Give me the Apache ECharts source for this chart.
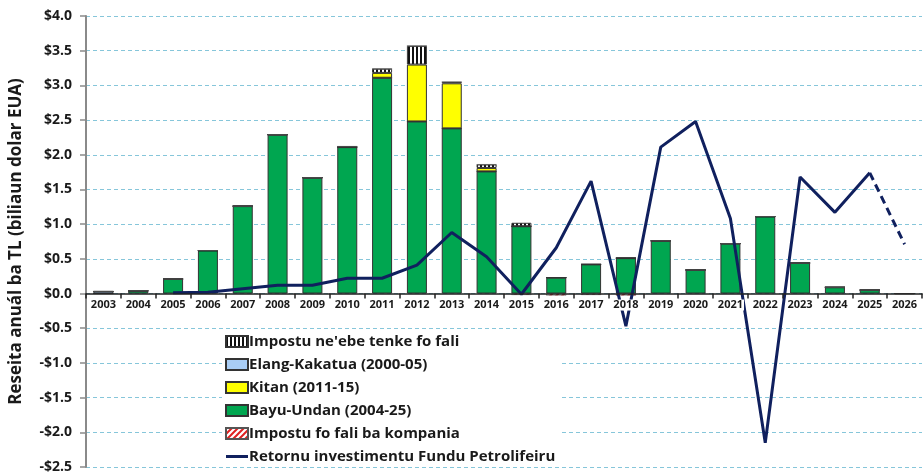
<!DOCTYPE html>
<html>
<head>
<meta charset="utf-8">
<script src="https://cdn.jsdelivr.net/npm/echarts@6/dist/echarts.min.js"></script>
<style>
  html, body { margin: 0; padding: 0; background: #fff; }
  #chart { width: 924px; height: 474px; }
</style>
</head>
<body>
<div id="chart"></div>
<script>
const years = ['2003', '2004', '2005', '2006', '2007', '2008', '2009', '2010', '2011', '2012', '2013', '2014',
    '2015', '2016', '2017', '2018', '2019', '2020', '2021', '2022', '2023', '2024', '2025', '2026'];

const bayuUndan = [0, 0.04, 0.21, 0.62, 1.26, 2.29, 1.67, 2.11, 3.11, 2.48, 2.38, 1.76,
    0.97, 0.23, 0.42, 0.51, 0.76, 0.34, 0.72, 1.11, 0.44, 0.09, 0.05, 0];
const elangKakatua = [0.03, 0, 0, 0, 0, 0, 0, 0, 0, 0, 0, 0,
    0, 0, 0, 0, 0, 0, 0, 0, 0, 0, 0, 0];
const kitan = [0, 0, 0, 0, 0, 0, 0, 0, 0.07, 0.82, 0.65, 0.05,
    0, 0, 0, 0, 0, 0, 0, 0, 0, 0, 0, 0];
const taxOwed = [0, 0, 0, 0, 0, 0, 0, 0.01, 0.06, 0.27, 0.02, 0.05,
    0.05, 0, 0, 0, 0, 0, 0, 0, 0, 0, 0, 0];
const taxRefund = [0, 0, 0, 0, 0, 0, 0, 0, 0, 0, 0, 0,
    -0.02, -0.03, -0.02, -0.03, 0, 0, 0, 0, 0, 0, 0, 0];
const fundReturn = [null, null, 0.01, 0.02, 0.07, 0.12, 0.12, 0.22, 0.22, 0.41, 0.88, 0.53,
    -0.01, 0.66, 1.62, -0.47, 2.11, 2.48, 1.08, -2.15, 1.68, 1.17, 1.74, null];
const fundReturnProj = [null, null, null, null, null, null, null, null, null, null, null, null,
    null, null, null, null, null, null, null, null, null, null, 1.74, 0.71];

const yTicks = [-2.5, -2.0, -1.5, -1.0, -0.5, 0, 0.5, 1.0, 1.5, 2.0, 2.5, 3.0, 3.5, 4.0];
const yMin = -2.5, yMax = 4.0;

const fontFamily = '"Open Sans", "DejaVu Sans", sans-serif';
const textColor = '#1a1a1a';
const navy = '#10205e';

const gridTop = 16, gridBottom = 7, chartH = 474;
// x axis sits on zero: shift it up from the grid bottom
const plotH = chartH - gridTop - gridBottom;
const zeroOffset = -plotH * (0 - yMin) / (yMax - yMin);

// hatch patterns
function makePattern(draw, w, h) {
    const c = document.createElement('canvas');
    c.width = w;
    c.height = h;
    const ctx = c.getContext('2d');
    ctx.fillStyle = '#fff';
    ctx.fillRect(0, 0, w, h);
    draw(ctx);
    return {image: c, repeat: 'repeat'};
}

const stripePattern = makePattern(ctx => {
    ctx.fillStyle = '#111';
    ctx.fillRect(0, 0, 2, 4);
}, 4, 4);

const redPattern = makePattern(ctx => {
    ctx.strokeStyle = '#e02020';
    ctx.lineWidth = 2;
    ctx.beginPath();
    ctx.moveTo(-1, 7); ctx.lineTo(7, -1);
    ctx.moveTo(-4, 4); ctx.lineTo(4, -4);
    ctx.moveTo(2, 10); ctx.lineTo(10, 2);
    ctx.stroke();
}, 6, 6);

const barBorder = {borderColor: '#333', borderWidth: 1};

const chart = echarts.init(document.getElementById('chart'));

chart.setOption({
    animation: false,
    grid: {left: 82, right: 2, top: gridTop, bottom: gridBottom, containLabel: false},
    legend: {
        data: [
            {name: "Impostu ne'ebe tenke fo fali", icon: 'rect'},
            {name: 'Elang-Kakatua (2000-05)', icon: 'rect'},
            {name: 'Kitan (2011-15)', icon: 'rect'},
            {name: 'Bayu-Undan (2004-25)', icon: 'rect'},
            {name: 'Impostu fo fali ba kompania', icon: 'rect'},
            {name: 'Retornu investimentu Fundu Petrolifeiru', icon: 'path://M0,0L22,0L22,3L0,3Z'}
        ],
        orient: 'vertical',
        left: 222,
        top: 333,
        itemWidth: 22,
        itemHeight: 11,
        itemGap: 8,
        symbolKeepAspect: true,
        backgroundColor: '#fff',
        padding: [1, 4, 1, 3],
        textStyle: {fontFamily: fontFamily, fontSize: 15, fontWeight: 'bold', color: textColor, padding: [0, 0, 0, -4]}
    },
    xAxis: {
        type: 'category',
        data: years,
        z: 5,
        offset: zeroOffset,
        axisLine: {onZero: false, lineStyle: {color: '#222', width: 1.5}},
        axisTick: {show: true, length: 5, lineStyle: {color: '#222', width: 1.5}},
        axisLabel: {
            fontFamily: fontFamily, fontSize: 11, fontWeight: 'bold', color: textColor,
            margin: 6, backgroundColor: '#fff', padding: [0, 1]
        },
        splitLine: {show: false}
    },
    yAxis: {
        type: 'value',
        min: yMin,
        max: yMax,
        interval: 0.5,
        name: 'Reseita anuál ba TL (biliaun dolar EUA)',
        nameLocation: 'middle',
        nameGap: 61,
        nameTextStyle: {fontFamily: fontFamily, fontSize: 17, fontWeight: 'bold', color: textColor},
        axisLine: {show: true, lineStyle: {color: '#8a8a8a', width: 2}},
        axisTick: {show: true, length: 6, lineStyle: {color: '#8a8a8a', width: 1.5}},
        axisLabel: {
            fontFamily: fontFamily, fontSize: 14, fontWeight: 'bold', color: textColor, margin: 14,
            formatter: v => {
                const i = yTicks.findIndex(t => Math.abs(t - v) < 1e-9);
                const t = i >= 0 ? yTicks[i] : v;
                return (t < 0 ? '-$' : '$') + Math.abs(t).toFixed(1);
            }
        },
        splitLine: {show: true, lineStyle: {color: '#86c6da', type: [4, 3], width: 1}}
    },
    series: [
        {
            name: 'Bayu-Undan (2004-25)', type: 'bar', stack: 'rev', barWidth: 20,
            itemStyle: Object.assign({color: '#00a650'}, barBorder),
            data: bayuUndan
        },
        {
            name: 'Elang-Kakatua (2000-05)', type: 'bar', stack: 'rev', barWidth: 20,
            itemStyle: Object.assign({color: '#a9cdf5'}, barBorder),
            data: elangKakatua
        },
        {
            name: 'Kitan (2011-15)', type: 'bar', stack: 'rev', barWidth: 20,
            itemStyle: Object.assign({color: '#ffff00'}, barBorder),
            data: kitan
        },
        {
            name: "Impostu ne'ebe tenke fo fali", type: 'bar', stack: 'rev', barWidth: 20,
            itemStyle: Object.assign({color: stripePattern}, barBorder),
            data: taxOwed
        },
        {
            name: 'Impostu fo fali ba kompania', type: 'bar', stack: 'rev', barWidth: 20,
            itemStyle: Object.assign({color: redPattern}, {borderColor: '#555', borderWidth: 0.5}),
            data: taxRefund
        },
        {
            name: 'Retornu investimentu Fundu Petrolifeiru', type: 'line', z: 4,
            symbol: 'none', connectNulls: false,
            lineStyle: {color: navy, width: 3},
            itemStyle: {color: navy},
            data: fundReturn
        },
        {
            name: 'proj', type: 'line', z: 4,
            symbol: 'none',
            lineStyle: {color: navy, width: 3, type: [8, 5]},
            itemStyle: {color: navy},
            data: fundReturnProj
        }
    ]
});
</script>
</body>
</html>
